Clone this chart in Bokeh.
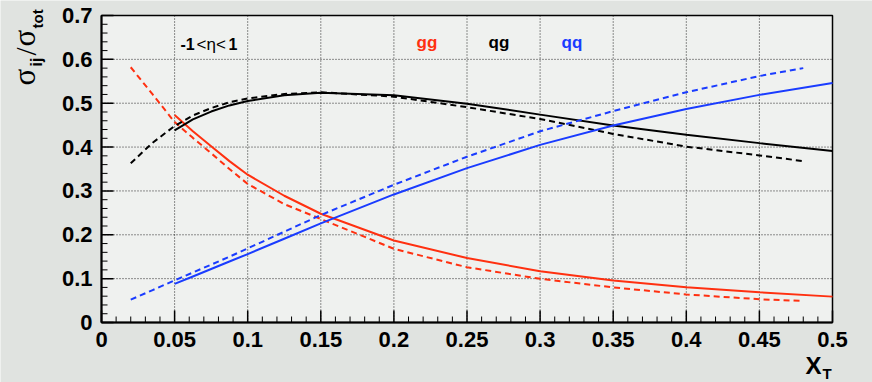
import math
from bokeh.plotting import figure
from bokeh.models import FixedTicker, Label, Range1d, LinearAxis
from bokeh.embed import file_html
from bokeh.resources import INLINE

# ---- data ----
x_solid = [0.05, 0.0625, 0.075, 0.0875, 0.1, 0.125, 0.15, 0.2, 0.25, 0.3, 0.35, 0.4, 0.45, 0.5]
x_dash = [0.02, 0.035, 0.05, 0.0625, 0.075, 0.0875, 0.1, 0.125, 0.15, 0.2, 0.25, 0.3, 0.35, 0.4, 0.45, 0.48]

gg_solid = [0.473, 0.436, 0.402, 0.368, 0.337, 0.289, 0.248, 0.187, 0.147, 0.117, 0.096, 0.0805, 0.069, 0.059]
qg_solid = [0.438, 0.463, 0.481, 0.495, 0.505, 0.518, 0.524, 0.518, 0.499, 0.474, 0.449, 0.428, 0.409, 0.391]
qq_solid = [0.088, 0.105, 0.122, 0.139, 0.156, 0.191, 0.226, 0.292, 0.352, 0.405, 0.449, 0.487, 0.519, 0.546]

gg_dash = [0.582, 0.520, 0.457, 0.421, 0.386, 0.350, 0.316, 0.270, 0.236, 0.168, 0.126, 0.0996, 0.080, 0.064, 0.053, 0.049]
qg_dash = [0.363, 0.410, 0.448, 0.472, 0.489, 0.502, 0.511, 0.521, 0.525, 0.515, 0.491, 0.464, 0.430, 0.401, 0.381, 0.368]
qq_dash = [0.052, 0.074, 0.096, 0.114, 0.132, 0.150, 0.169, 0.207, 0.245, 0.314, 0.378, 0.436, 0.482, 0.525, 0.562, 0.580]

x_ticks = [0, 0.05, 0.1, 0.15, 0.2, 0.25, 0.3, 0.35, 0.4, 0.45, 0.5]
x_tick_labels = ["0", "0.05", "0.1", "0.15", "0.2", "0.25", "0.3", "0.35", "0.4", "0.45", "0.5"]
y_ticks = [0, 0.1, 0.2, 0.3, 0.4, 0.5, 0.6, 0.7]
y_tick_labels = ["0", "0.1", "0.2", "0.3", "0.4", "0.5", "0.6", "0.7"]
x_minor = [round(i * 0.01, 2) for i in range(51) if i % 5]
y_minor = [round(i * 0.02, 2) for i in range(36) if i % 5]

RED = "#ff3010"
BLUE = "#1a3cff"
BLACK = "#000000"
FONT = "Liberation Sans"

# ---- layout (pixels) ----
W, H = 872, 382
PX_L, PX_R, PX_T, PX_B = 101, 832, 15, 322
MAJOR_LEN, MINOR_LEN = 12, 6
X0, X1 = x_ticks[0], x_ticks[-1]
Y0, Y1 = y_ticks[0], y_ticks[-1]
kx = (PX_R - PX_L) / (X1 - X0)
ky = (PX_B - PX_T) / (Y1 - Y0)


def dx(px):
    return X0 + (px - PX_L) / kx


def dy(py):
    return Y0 + (PX_B - py) / ky


p = figure(width=W, height=H,
           x_range=Range1d(dx(0), dx(W)), y_range=Range1d(dy(H), dy(0)),
           x_axis_type=None, y_axis_type=None,
           output_backend="svg", toolbar_location=None, min_border=0)
p.outline_line_color = None
p.background_fill_color = "#e0e3e0"
p.border_fill_color = "#e0e3e0"

# plot box background
p.quad(left=[X0], right=[X1], bottom=[Y0], top=[Y1], fill_color="#eff1ef",
       line_color="black", line_width=1.5)

# dotted grid at the major ticks
inner_x = x_ticks[1:-1]
inner_y = y_ticks[1:-1]
p.segment(x0=inner_x, y0=[Y0] * len(inner_x), x1=inner_x, y1=[Y1] * len(inner_x),
          line_color="black", line_dash="1 2", line_width=1, line_alpha=0.85)
p.segment(x0=[X0] * len(inner_y), y0=inner_y, x1=[X1] * len(inner_y), y1=inner_y,
          line_color="black", line_dash="1 2", line_width=1, line_alpha=0.85)

# curves
p.line(x_solid, gg_solid, line_color=RED, line_width=2)
p.line(x_dash, gg_dash, line_color=RED, line_width=2, line_dash="6 4")
p.line(x_solid, qg_solid, line_color=BLACK, line_width=2)
p.line(x_dash, qg_dash, line_color=BLACK, line_width=2, line_dash="6 4")
p.line(x_solid, qq_solid, line_color=BLUE, line_width=2)
p.line(x_dash, qq_dash, line_color=BLUE, line_width=2, line_dash="6 4")

# inward tick marks (at the tick positions of the axes)
for xs, ln, w in ((x_ticks, MAJOR_LEN, 1.5), (x_minor, MINOR_LEN, 1)):
    p.segment(x0=xs, y0=[Y0] * len(xs), x1=xs, y1=[Y0 + ln / ky] * len(xs),
              line_color="black", line_width=w)
for ys, ln, w in ((y_ticks, MAJOR_LEN, 1.5), (y_minor, MINOR_LEN, 1)):
    p.segment(x0=[X0] * len(ys), y0=ys, x1=[X0 + ln / kx] * len(ys), y1=ys,
              line_color="black", line_width=w)

# axes drawn at the plot box edges (lines and tick labels)
xax = LinearAxis(fixed_location=Y0, bounds=(X0, X1), ticker=FixedTicker(ticks=x_ticks),
                 major_label_overrides={t: l for t, l in zip(x_ticks, x_tick_labels)})
yax = LinearAxis(fixed_location=X0, bounds=(Y0, Y1), ticker=FixedTicker(ticks=y_ticks),
                 major_label_overrides={t: l for t, l in zip(y_ticks, y_tick_labels)})
for ax in (xax, yax):
    ax.major_tick_in = 0
    ax.major_tick_out = 0
    ax.minor_tick_in = 0
    ax.minor_tick_out = 0
    ax.axis_line_width = 2
    ax.major_label_text_font = FONT
    ax.major_label_text_font_style = "bold"
    ax.major_label_text_font_size = "22px"
    ax.major_label_text_color = "black"
    ax.major_label_standoff = 9
p.add_layout(xax, "below")
p.add_layout(yax, "left")


def lab(px, py, text, size, color="black", style="bold", font=FONT, angle=0.0):
    # (px, py): left end of the text baseline, canvas pixels
    asc, desc = (0.891, 0.216) if "Serif" in font else (0.905, 0.212)
    shift = (asc - desc) / 2 * size
    if angle:
        ax_, ay_ = px - shift, py
    else:
        ax_, ay_ = px, py - shift
    p.add_layout(Label(x=dx(ax_), y=dy(ay_), text=text, text_font=font,
                       text_font_size=f"{size}px", text_font_style=style,
                       text_color=color, angle=angle,
                       text_align="left", text_baseline="middle"))


# in-plot texts
lab(180, 49.5, "-1", 16)
lab(196, 49.5, "<η<", 17, style="normal")
lab(228, 49.5, "1", 16)
lab(416, 48, "gg", 17, color=RED)
lab(488, 48, "qg", 17, color=BLACK)
lab(561, 48, "qq", 17, color=BLUE)

# y axis title  sigma_ij / sigma_tot (rotated, reads bottom to top)
A = math.pi / 2
lab(34, 85, "σ", 31, style="normal", font="Liberation Serif", angle=A)
lab(42, 66, "ij", 16, angle=A)
lab(35, 55, "/", 29, style="normal", font="Liberation Serif", angle=A)
lab(34, 46, "σ", 31, style="normal", font="Liberation Serif", angle=A)
lab(42, 28, "tot", 15, angle=A)

# x axis title X_T
lab(805, 373, "X", 24)
lab(822, 378.5, "T", 15)

open("out.html", "w").write(file_html(p, INLINE))
